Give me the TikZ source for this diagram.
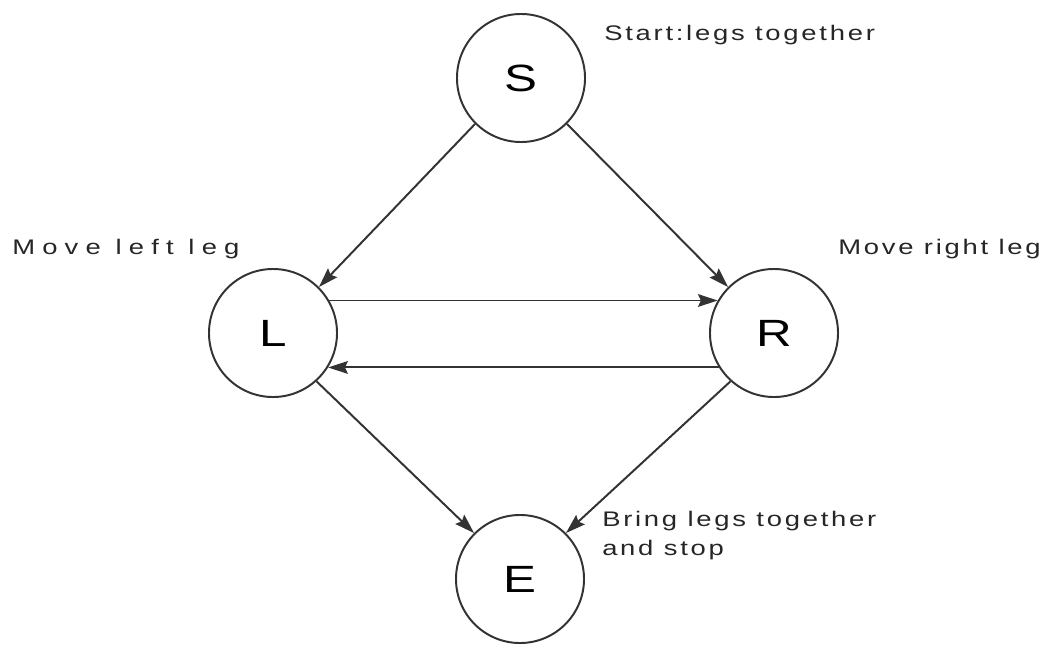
\documentclass[tikz,border=0pt]{standalone}
\usepackage{fontspec}
\setmainfont{Liberation Sans}
\newfontfamily\plotfont[FakeStretch=1.3,LetterSpace=13]{Liberation Sans}
\usepackage{tikz}
\usetikzlibrary{arrows.meta,positioning}

\begin{document}
\begin{tikzpicture}[x=0.025cm, y=-0.025cm,
  every node/.style={font=\plotfont\fontsize{15}{20}\selectfont},
  state/.style={draw=black!80, line width=1.4pt, circle, minimum size=3.2cm, inner sep=0pt, font=\plotfont\fontsize{27}{30}\selectfont},
  note/.style={anchor=base west, inner sep=0pt, text=black!85},
  move/.style={draw=black!80, line width=1.4pt, -{Stealth[length=14pt,width=9pt,inset=2pt]}}]
  \useasboundingbox (0,0) rectangle (1046,652);
  \node[state] (s) at (521,78) {S};
  \node[state] (l) at (273,333) {L};
  \node[state] (r) at (774,333) {R};
  \node[state] (e) at (520,579) {E};
  \node[note] (snote) at (604,40) {Start:legs together};
  \node[note] (lnote) at (12,254) {\addfontfeature{LetterSpace=34}Move left leg};
  \node[note] (rnote) at (838,254) {Move right leg};
  \node[note, align=left] (enote) at (602,555) {Bring legs together\\and stop};
  \draw[move] (s.225) -- (l.45);
  \draw[move] (s.-45) -- (r.135);
  \draw[move] (l.30) -- (r.150);
  \draw[move] (r.-148) -- (l.-32);
  \draw[move] (l.-48) -- (e.135);
  \draw[move] (r.-132) -- (e.45);
\end{tikzpicture}
\end{document}
